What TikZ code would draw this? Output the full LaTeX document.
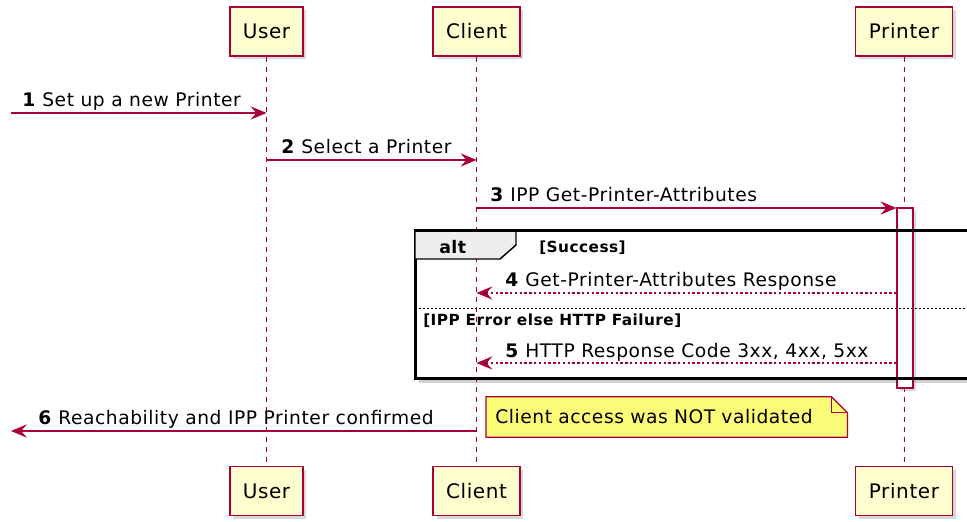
\documentclass[tikz,border=0pt]{standalone}
\usepackage{fontspec}
\setmainfont{DejaVu Sans}[LetterSpace=3]
\usetikzlibrary{arrows.meta,shadows,backgrounds}
\definecolor{umlred}{HTML}{A80036}
\definecolor{umlfill}{HTML}{FEFECE}
\definecolor{notefill}{HTML}{FBFB77}
\definecolor{tabgray}{HTML}{EEEEEE}
\tikzset{
    actor/.style={draw=umlred, fill=umlfill, line width=1.1pt, minimum height=36.75pt,
        font=\fontsize{15}{18}\selectfont, drop shadow={shadow xshift=2.5pt, shadow yshift=-2.5pt, opacity=.3}},
    lifeline/.style={umlred, line width=.75pt, dash pattern=on 3.75pt off 3.75pt},
    msg/.style={umlred, line width=.8pt, -{Stealth[length=12pt, width=10pt, inset=4.5pt]}},
    reply/.style={msg, dash pattern=on 1.8pt off 1.8pt},
    lbl/.style={anchor=base west, inner sep=0pt, font=\fontsize{14}{17}\selectfont},
    guard/.style={anchor=base west, inner sep=0pt, font=\fontsize{11.5}{13}\selectfont\bfseries},
}
\begin{document}
\begin{tikzpicture}[x=0.75pt, y=-0.75pt]
    \useasboundingbox (0,0) rectangle (967,521);
    \node[actor, minimum width=54.75pt] (userT) at (266.5,31.5) {User};
    \node[actor, minimum width=65pt] (clientT) at (476.5,31.5) {Client};
    \node[actor, minimum width=72.75pt] (printerT) at (904,31.5) {Printer};
    \node[actor, minimum width=54.75pt] (userB) at (266.5,491) {User};
    \node[actor, minimum width=65pt] (clientB) at (476.5,491) {Client};
    \node[actor, minimum width=72.75pt] (printerB) at (904,491) {Printer};
    \draw[lifeline] (userT.south) -- (userB.north);
    \draw[lifeline] (clientT.south) -- (clientB.north);
    \draw[lifeline] (printerT.south) -- (printerB.north);
    \coordinate (r1) at (11,113);
    \coordinate (r2) at (0,160);
    \coordinate (r3) at (0,208);
    \coordinate (r4) at (0,293);
    \coordinate (r5) at (0,363);
    \coordinate (r6) at (11,431);
    \node[draw=umlred, fill=white, line width=.9pt, minimum width=12pt, minimum height=135pt, inner sep=0pt,
        drop shadow={shadow xshift=2.5pt, shadow yshift=-2.5pt, opacity=.3}] (act) at (905,298) {};
    \draw[msg] (r1) -- (userT |- r1);
    \node[lbl] (t1) at (22,106) {\textbf{1} Set up a new Printer};
    \draw[msg] (userT |- r2) -- (clientT |- r2);
    \node[lbl] (t2) at (281,153) {\textbf{2} Select a Printer};
    \draw[msg] (clientT |- r3) -- (act.west |- r3);
    \node[lbl] (t3) at (490,201) {\textbf{3} IPP Get-Printer-Attributes};
    \begin{scope}[on background layer]
        \fill[black, opacity=.18] (419,378) rectangle (980,383);
    \end{scope}
    \draw[black, line width=2.25pt] (415,230) rectangle (985,378);
    \filldraw[fill=tabgray, draw=black, line width=1.1pt]
        (415,230) -- (516,230) -- (516,245) -- (500,259) -- (415,259) -- cycle;
    \draw[black, line width=2.25pt] (415,230) -- (985,230);
    \node[anchor=base west, inner sep=0pt, font=\fontsize{13}{16}\selectfont\bfseries] (alt) at (439,253) {alt};
    \node[guard] (g1) at (539,252) {[Success]};
    \draw[black, line width=.75pt, dash pattern=on 1.5pt off 1.5pt] (415,308) -- (985,308);
    \node[guard] (g2) at (423,325) {[IPP Error else HTTP Failure]};
    \draw[reply] (act.west |- r4) -- (clientT |- r4);
    \node[lbl] (t4) at (505,286) {\textbf{4} Get-Printer-Attributes Response};
    \draw[reply] (act.west |- r5) -- (clientT |- r5);
    \node[lbl] (t5) at (505,357) {\textbf{5} HTTP Response Code 3xx, 4xx, 5xx};
    \draw[msg] (clientT |- r6) -- (r6);
    \node[lbl] (t6) at (38,424) {\textbf{6} Reachability and IPP Printer confirmed};
    \node[lbl, anchor=west, text width=257.25pt, align=left, inner xsep=6.75pt, minimum height=30pt]
        (note) at (486,417) {Client access was NOT validated};
    \begin{scope}[on background layer]
        \fill[black, opacity=.25, xshift=2.5pt, yshift=-2.5pt]
            (note.south west) -- (note.north west) -- ([xshift=-12pt]note.north east)
            -- ([yshift=-12pt]note.north east) -- (note.south east) -- cycle;
        \filldraw[fill=notefill, draw=umlred, line width=.9pt]
            (note.south west) -- (note.north west) -- ([xshift=-12pt]note.north east)
            -- ([yshift=-12pt]note.north east) -- (note.south east) -- cycle;
        \draw[umlred, line width=.9pt]
            ([xshift=-12pt]note.north east) -- ([xshift=-12pt, yshift=-12pt]note.north east)
            -- ([yshift=-12pt]note.north east);
    \end{scope}
\end{tikzpicture}
\end{document}
